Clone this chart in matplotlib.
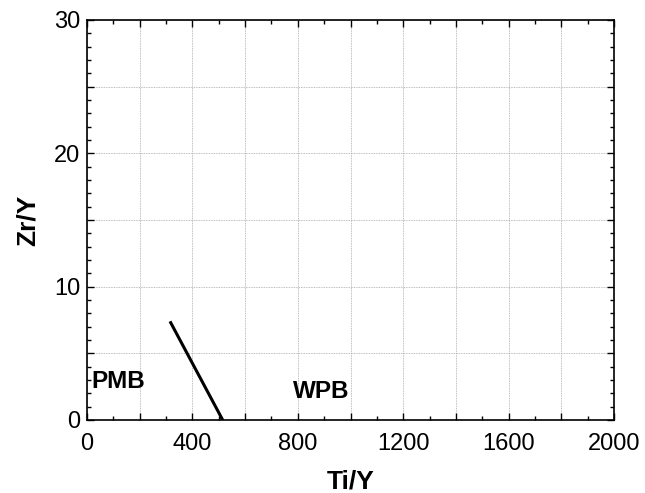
import matplotlib.pyplot as plt
from matplotlib.ticker import MultipleLocator, FuncFormatter

plt.rcParams['font.family'] = ['Liberation Sans', 'DejaVu Sans']

# boundary line between fields
line_x = [315, 515]
line_y = [7.4, 0]

field_names = ['PMB', 'WPB']
field_x = [18, 780]
field_y = [2.9, 2.1]

fig = plt.figure(figsize=(6.45, 4.93), dpi=100)
ax = fig.add_axes([87/645, 73/493, 527/645, 400/493])

ax.plot(line_x, line_y, color='black', lw=2.2, solid_capstyle='butt')
for name, x, y in zip(field_names, field_x, field_y):
    ax.text(x, y, name, fontsize=17.5, fontweight='bold', va='center', ha='left')

ax.set_xlim(0, 2000)
ax.set_ylim(0, 30)
ax.xaxis.set_major_locator(MultipleLocator(200))
ax.xaxis.set_minor_locator(MultipleLocator(100))
ax.yaxis.set_major_locator(MultipleLocator(5))
ax.yaxis.set_minor_locator(MultipleLocator(1))
ax.xaxis.set_major_formatter(FuncFormatter(lambda v, p: f'{v:.0f}' if v % 400 == 0 else ''))
ax.yaxis.set_major_formatter(FuncFormatter(lambda v, p: f'{v:.0f}' if v % 10 == 0 else ''))
ax.tick_params(which='both', direction='in', top=True, right=True, labelsize=17, width=1)
ax.tick_params(which='major', length=5)
ax.tick_params(axis='x', which='major', pad=9)
ax.tick_params(axis='y', which='major', pad=5)
ax.tick_params(which='minor', length=3)
ax.grid(True, which='major', color='#a8a8a8', lw=0.6, ls=(0, (1, 1)))
for s in ax.spines.values():
    s.set_linewidth(1.2)

ax.set_xlabel('Ti/Y', fontsize=19, fontweight='bold', labelpad=11)
ax.set_ylabel('Zr/Y', fontsize=19, fontweight='bold', labelpad=10)

fig.savefig('out.png', dpi=100)
